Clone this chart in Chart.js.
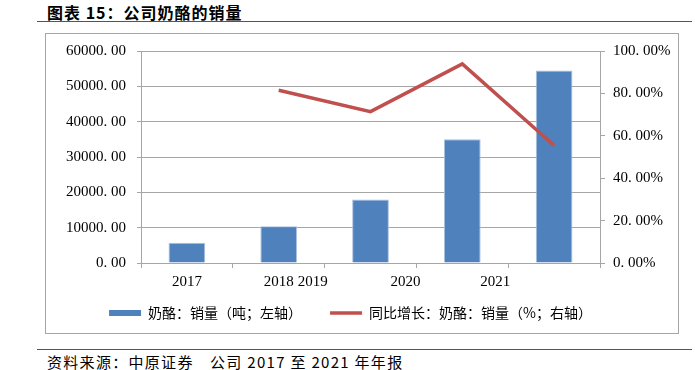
<!DOCTYPE html>
<html>
<head>
<meta charset="utf-8">
<script src="https://cdn.jsdelivr.net/npm/chart.js@4.4.1/dist/chart.umd.min.js"></script>
<style>
  body { margin: 0; width: 695px; height: 370px; background: #fff; position: relative; overflow: hidden; }
  .title { position: absolute; left: 47px; top: 2px; font: bold 16px/20px 'Noto Sans CJK SC', sans-serif; letter-spacing: 1px; color: #000; }
  .rule { position: absolute; left: 37px; width: 655px; height: 0; border-top: 1.5px solid #555; }
  .box { position: absolute; left: 45px; top: 33px; width: 634px; height: 301px; box-sizing: border-box; border: 1px solid #a6a6a6; }
  .wrap { position: absolute; left: 22px; top: 34px; width: 657px; height: 299px; }
  .source { position: absolute; left: 47px; top: 352px; font: 15px/20px 'Noto Sans CJK SC', sans-serif; letter-spacing: 1.3px; color: #000; white-space: pre; }
</style>
</head>
<body>
<div class="title">图表 15：公司奶酪的销量</div>
<div class="rule" style="top:21px"></div>
<div class="box"></div>
<div class="wrap"><canvas id="grafica" width="657" height="299"></canvas></div>
<div class="rule" style="top:349px"></div>
<div class="source">资料来源：中原证券　公司 2017 至 2021 年年报</div>

<script>
// datos
const years = ['2017', '2018', '2019', '2020', '2021'];
const salesTon = [5700, 10400, 18000, 35000, 54500];
const yoyPct = [null, 81.5, 71.4, 93.9, 55.4];
// etiquetas del eje x tal como aparecen (desplazadas en el original)
const xTickValues = [0, 1, 1.37, 2.38, 3.36];
const xTickLabels = ['2017', '2018', '2019', '2020', '2021'];

const serif = "'Liberation Serif', serif";
const cjk = "'Noto Sans CJK SC', sans-serif";
const gridGray = '#a6a6a6';
const barBlue = '#4f81bd';
const lineRed = '#c0504d';

const fmt = v => v.toFixed(2).replace('.', '. ');

new Chart(document.getElementById('grafica').getContext('2d'), {
    data: {
        labels: years,
        datasets: [{
            type: 'bar',
            label: '奶酪：销量（吨；左轴）',
            data: salesTon,
            backgroundColor: barBlue,
            borderColor: '#a9c0de',
            borderWidth: 1,
            barPercentage: 0.4,
            categoryPercentage: 1,
            yAxisID: 'y',
            order: 2
        }, {
            type: 'line',
            label: '同比增长：奶酪：销量（%；右轴）',
            data: yoyPct,
            borderColor: lineRed,
            borderWidth: 3.5,
            pointRadius: 0,
            tension: 0,
            yAxisID: 'y1',
            order: 1
        }]
    },
    options: {
        responsive: false,
        animation: false,
        devicePixelRatio: 1,
        layout: { padding: { top: 17, bottom: 3, left: 0, right: 0 } },
        plugins: {
            tooltip: { enabled: false },
            legend: {
                position: 'bottom',
                labels: {
                    usePointStyle: true,
                    pointStyleWidth: 32,
                    boxHeight: 6,
                    padding: 28,
                    color: '#000',
                    font: { family: cjk, size: 14 },
                    generateLabels(chart) {
                        const items = Chart.defaults.plugins.legend.labels.generateLabels(chart);
                        items.forEach(it => {
                            if (it.datasetIndex === 0) {
                                it.pointStyle = 'rect';
                                it.lineWidth = 0;
                                it.fillStyle = barBlue;
                                it.strokeStyle = barBlue;
                            } else {
                                it.pointStyle = 'line';
                                it.lineWidth = 3.5;
                                it.strokeStyle = lineRed;
                            }
                        });
                        return items.sort((a, b) => a.datasetIndex - b.datasetIndex);
                    }
                }
            }
        },
        scales: {
            x: {
                type: 'category',
                offset: true,
                grid: { offset: true, drawOnChartArea: false, tickLength: 5, color: gridGray },
                border: { color: gridGray },
                ticks: { display: false }
            },
            x2: {
                type: 'linear',
                position: 'bottom',
                min: -0.5,
                max: 4.5,
                grid: { display: false, drawTicks: false },
                border: { display: false },
                afterBuildTicks(scale) {
                    scale.ticks = xTickValues.map(v => ({ value: v }));
                },
                afterFit(scale) { scale.height = 10; },
                ticks: {
                    autoSkip: false,
                    maxRotation: 0,
                    // mirror evita el recorte; el padding negativo baja las etiquetas
                    mirror: true,
                    padding: -23,
                    color: '#000',
                    font: { family: serif, size: 15 },
                    callback: (v, i) => xTickLabels[i]
                }
            },
            y: {
                position: 'left',
                min: 0,
                max: 60000,
                afterFit(scale) { scale.width = 119; },
                // marca larga pero solo se ven los 4 px junto al eje
                grid: { color: gridGray, tickLength: 11, tickBorderDash: [4, 7], tickBorderDashOffset: 4 },
                border: { color: gridGray },
                ticks: {
                    stepSize: 10000,
                    padding: 4,
                    color: '#000',
                    font: { family: serif, size: 15 },
                    callback: v => fmt(v)
                }
            },
            y1: {
                position: 'right',
                min: 0,
                max: 100,
                afterFit(scale) { scale.width = 79; },
                grid: { drawOnChartArea: false, color: gridGray, tickLength: 8, tickBorderDash: [4, 4] },
                border: { color: gridGray },
                ticks: {
                    stepSize: 20,
                    padding: 5,
                    color: '#000',
                    font: { family: serif, size: 15 },
                    callback: v => fmt(v) + '%'
                }
            }
        }
    }
});
</script>
</body>
</html>
